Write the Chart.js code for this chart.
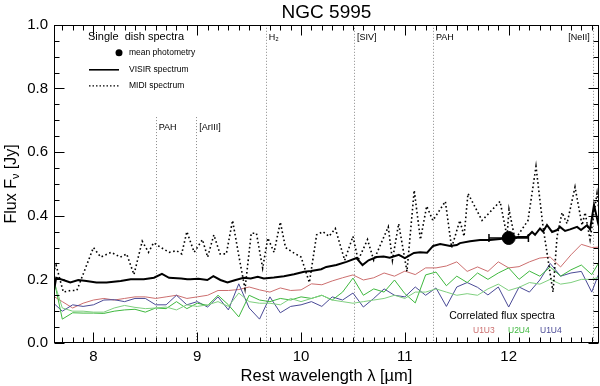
<!DOCTYPE html>
<html><head><meta charset="utf-8">
<script src="https://cdn.jsdelivr.net/npm/chart.js@4"></script>
<style>html,body{margin:0;padding:0;background:#fff}canvas{display:block}</style>
</head><body>
<canvas id="c" width="600" height="386"></canvas>
<script>
const FONT = "'Liberation Sans', Arial, Helvetica, sans-serif";

// ---- axes ----
const xMin = 7.62, xMax = 12.87;
const yMin = 0, yMax = 1.0;
const xTicks = [8, 9, 10, 11, 12];
const yTicks = [0, 0.2, 0.4, 0.6, 0.8, 1.0];

// ---- MIDI single-dish spectrum (dotted) ----
const midiWave = [7.61,7.64,7.71,7.78,7.84,8.00,8.07,8.17,8.26,8.32,8.39,8.47,8.53,8.58,8.65,8.73,8.80,8.85,8.90,8.97,
  9.05,9.10,9.16,9.22,9.28,9.34,9.40,9.46,9.52,9.57,9.63,9.68,9.74,9.80,9.85,9.92,10.00,10.08,10.15,10.21,
  10.27,10.33,10.42,10.50,10.55,10.64,10.70,10.84,10.88,10.94,11.02,11.09,11.15,11.21,11.27,11.39,11.45,11.53,11.57,11.608,
  11.743,11.917,11.984,12.003,12.061,12.186,12.263,12.331,12.427,12.466,12.514,12.562,12.639,12.707,12.736,12.784,12.851,12.88];
const midiFlux = [0.22,0.245,0.16,0.165,0.165,0.30,0.27,0.285,0.27,0.28,0.215,0.32,0.285,0.315,0.30,0.285,0.29,0.28,0.35,0.285,
  0.325,0.27,0.34,0.28,0.28,0.385,0.275,0.17,0.345,0.345,0.235,0.33,0.285,0.38,0.30,0.285,0.27,0.19,0.34,0.35,
  0.335,0.36,0.26,0.335,0.26,0.325,0.26,0.365,0.26,0.375,0.225,0.48,0.325,0.43,0.385,0.445,0.30,0.385,0.335,0.47,
  0.385,0.445,0.335,0.42,0.325,0.385,0.555,0.365,0.16,0.335,0.41,0.375,0.49,0.37,0.41,0.325,0.47,0.385];

// ---- VISIR single-dish spectrum (solid) ----
const visirWave = [7.612,7.641,7.709,7.777,7.854,7.932,8.029,8.126,8.262,8.359,8.485,8.583,8.66,8.728,8.845,8.903,
  8.932,9.01,9.097,9.155,9.223,9.291,9.369,9.447,9.515,9.583,9.641,9.738,9.835,9.932,10.029,10.097,10.194,
  10.243,10.34,10.437,10.534,10.592,10.65,10.728,10.796,10.854,10.942,11.0,11.087,11.146,11.214,11.272,11.34,11.437,11.5,11.531,
  11.628,11.724,11.82,11.917,12.09,12.177,12.225,12.254,12.302,12.331,12.369,12.418,12.466,12.495,12.543,12.591,12.659,12.697,12.755,12.784,12.822,12.861,12.88];
const visirFlux = [0.15,0.205,0.198,0.19,0.198,0.195,0.19,0.19,0.195,0.20,0.20,0.205,0.217,0.205,0.203,0.20,
  0.20,0.202,0.198,0.21,0.198,0.19,0.198,0.205,0.203,0.208,0.203,0.206,0.21,0.216,0.224,0.226,0.232,
  0.239,0.245,0.255,0.267,0.245,0.26,0.27,0.272,0.268,0.277,0.267,0.283,0.285,0.284,0.305,0.311,0.305,0.308,0.314,
  0.32,0.324,0.324,0.327,0.333,0.333,0.349,0.34,0.36,0.35,0.371,0.349,0.355,0.365,0.352,0.357,0.365,0.355,0.37,0.357,0.434,0.377,0.355];

// ---- mean photometry ----
const photWave = [12.0];
const photFlux = [0.33];
const photErr = [0.19];

// ---- correlated flux spectra ----
const corrWave = [7.6,7.7,7.8,7.9,8.0,8.1,8.2,8.3,8.4,8.5,8.6,8.7,8.8,8.9,9.0,9.1,9.2,9.3,9.4,9.5,
  9.6,9.7,9.8,9.9,10.0,10.1,10.2,10.3,10.4,10.5,10.6,10.7,10.8,10.9,11.0,11.1,11.2,11.3,11.4,11.5,
  11.6,11.7,11.8,11.9,12.0,12.1,12.2,12.3,12.4,12.5,12.6,12.7,12.8,12.9];
const u1u3 = [0.15,0.13,0.11,0.125,0.135,0.14,0.135,0.14,0.145,0.145,0.14,0.145,0.15,0.14,0.145,0.15,0.165,0.165,0.168,0.176,
  0.167,0.16,0.173,0.165,0.167,0.186,0.183,0.195,0.205,0.214,0.198,0.205,0.22,0.21,0.226,0.215,0.236,0.236,0.242,0.255,
  0.225,0.239,0.225,0.255,0.236,0.24,0.255,0.267,0.27,0.239,0.277,0.31,0.30,0.302];
const u2u4 = [0.23,0.075,0.095,0.094,0.094,0.093,0.10,0.104,0.106,0.097,0.11,0.108,0.13,0.108,0.125,0.118,0.15,0.12,0.082,0.15,
  0.135,0.13,0.14,0.135,0.145,0.14,0.15,0.135,0.16,0.204,0.15,0.17,0.16,0.198,0.155,0.126,0.214,0.223,0.18,0.21,
  0.19,0.22,0.2,0.22,0.236,0.2,0.226,0.21,0.239,0.21,0.23,0.245,0.215,0.27];
const u2u4b = [0.214,0.11,0.10,0.10,0.097,0.097,0.11,0.118,0.112,0.108,0.11,0.113,0.104,0.12,0.115,0.12,0.13,0.115,0.157,0.13,
  0.125,0.125,0.12,0.14,0.13,0.14,0.15,0.135,0.13,0.125,0.13,0.135,0.14,0.15,0.14,0.16,0.16,0.17,0.16,0.15,
  0.155,0.15,0.17,0.185,0.165,0.175,0.19,0.185,0.20,0.185,0.19,0.20,0.20,0.21];
const u1u4 = [0.13,0.10,0.12,0.115,0.12,0.135,0.136,0.13,0.14,0.14,0.12,0.12,0.15,0.12,0.13,0.113,0.145,0.104,0.186,0.11,
  0.075,0.145,0.095,0.115,0.12,0.13,0.115,0.145,0.135,0.157,0.113,0.14,0.17,0.15,0.145,0.176,0.15,0.173,0.115,0.176,
  0.19,0.175,0.151,0.176,0.113,0.176,0.16,0.198,0.25,0.21,0.22,0.225,0.16,0.245];

// ---- spectral line markers ----
const lineWave = [8.6, 8.99, 9.66, 10.51, 11.27, 12.81];
const lineLabels = ['PAH', '[ArIII]', 'H\u2082', '[SIV]', 'PAH', '[NeII]'];
const lineTop = [0.71, 0.71, 1.0, 1.0, 1.0, 1.0];
const lineLabelY = [0.676, 0.676, 0.96, 0.96, 0.96, 0.96];

const colRed = '#cc6f6f', colGreen = '#3fb83f', colGreen2 = '#7fcf7f', colPurple = '#4a4a96';

const pairs = (xs, ys) => xs.map((x, i) => ({ x: x, y: ys[i] }));

const overlay = {
  id: 'overlay',
  beforeDatasetsDraw(chart) {
    const ctx = chart.ctx, xs = chart.scales.x, ys = chart.scales.y, a = chart.chartArea;
    ctx.save();
    ctx.beginPath(); ctx.rect(a.left, a.top, a.right - a.left, a.bottom - a.top); ctx.clip();
    ctx.strokeStyle = '#8a8a8a'; ctx.lineWidth = 1; ctx.setLineDash([1, 2]);
    lineWave.forEach((w, i) => {
      const px = Math.round(xs.getPixelForValue(w)) + 0.5;
      ctx.beginPath(); ctx.moveTo(px, ys.getPixelForValue(lineTop[i])); ctx.lineTo(px, a.bottom); ctx.stroke();
    });
    ctx.setLineDash([]);
    ctx.restore();
    ctx.save();
    ctx.fillStyle = '#000'; ctx.font = '9px ' + FONT; ctx.textBaseline = 'middle';
    lineWave.forEach((w, i) => {
      const px = xs.getPixelForValue(w), py = ys.getPixelForValue(lineLabelY[i]);
      if (i === lineWave.length - 1) { ctx.textAlign = 'right'; ctx.fillText(lineLabels[i], px - 3, py); }
      else { ctx.textAlign = 'left'; ctx.fillText(lineLabels[i], px + 3, py); }
    });
    ctx.restore();
  },
  afterDatasetsDraw(chart) {
    const ctx = chart.ctx, xs = chart.scales.x, ys = chart.scales.y, a = chart.chartArea;
    ctx.save();
    // error bar of photometry
    ctx.strokeStyle = '#000'; ctx.lineWidth = 1.5;
    photWave.forEach((w, i) => {
      const x1 = xs.getPixelForValue(w - photErr[i]), x2 = xs.getPixelForValue(w + photErr[i]);
      const py = ys.getPixelForValue(photFlux[i]);
      ctx.beginPath();
      ctx.moveTo(x1, py); ctx.lineTo(x2, py);
      ctx.moveTo(x1, py - 4); ctx.lineTo(x1, py + 4);
      ctx.moveTo(x2, py - 4); ctx.lineTo(x2, py + 4);
      ctx.stroke();
    });
    // frame
    ctx.lineWidth = 1; ctx.strokeStyle = '#000';
    const L = Math.round(a.left) + 0.5, R = Math.round(a.right) - 0.5, T = Math.round(a.top) + 0.5, B = Math.round(a.bottom) - 0.5;
    ctx.strokeRect(L, T, R - L, B - T);
    // ticks
    ctx.beginPath();
    for (let i = Math.ceil(xMin * 10); i <= Math.floor(xMax * 10); i++) {
      const len = (i % 10 === 0) ? 10 : 5;
      const px = Math.round(xs.getPixelForValue(i / 10)) + 0.5;
      ctx.moveTo(px, B); ctx.lineTo(px, B - len);
      ctx.moveTo(px, T); ctx.lineTo(px, T + len);
    }
    for (let i = 0; i <= 20; i++) {
      const len = (i % 4 === 0) ? 10 : 5;
      const py = Math.round(ys.getPixelForValue(i * 0.05)) + 0.5;
      ctx.moveTo(L, py); ctx.lineTo(L + len, py);
      ctx.moveTo(R, py); ctx.lineTo(R - len, py);
    }
    ctx.stroke();

    // single dish legend
    ctx.fillStyle = '#000'; ctx.textBaseline = 'middle'; ctx.textAlign = 'left';
    ctx.font = '11px ' + FONT;
    ctx.fillText('Single  dish spectra', a.left + 34, a.top + 12);
    ctx.font = '8.5px ' + FONT;
    ctx.beginPath(); ctx.arc(a.left + 65, a.top + 28, 3.5, 0, Math.PI * 2); ctx.fill();
    ctx.fillText('mean photometry', a.left + 75, a.top + 28);
    ctx.lineWidth = 1.6;
    ctx.beginPath(); ctx.moveTo(a.left + 35, a.top + 45); ctx.lineTo(a.left + 65, a.top + 45); ctx.stroke();
    ctx.fillText('VISIR spectrum', a.left + 75, a.top + 45);
    ctx.setLineDash([1.5, 2]); ctx.lineWidth = 1.3;
    ctx.beginPath(); ctx.moveTo(a.left + 35, a.top + 61); ctx.lineTo(a.left + 65, a.top + 61); ctx.stroke();
    ctx.setLineDash([]);
    ctx.fillText('MIDI spectrum', a.left + 75, a.top + 61);

    // correlated flux legend
    ctx.font = '10.5px ' + FONT; ctx.textAlign = 'center';
    ctx.fillText('Correlated flux spectra', a.left + 448, a.bottom - 27);
    ctx.font = '8.5px ' + FONT; ctx.textAlign = 'left';
    ctx.fillStyle = colRed; ctx.fillText('U1U3', a.left + 419, a.bottom - 12);
    ctx.fillStyle = colGreen; ctx.fillText('U2U4', a.left + 454, a.bottom - 12);
    ctx.fillStyle = colPurple; ctx.fillText('U1U4', a.left + 486, a.bottom - 12);

    // y-axis title with subscript
    ctx.fillStyle = '#000';
    ctx.translate(12, (a.top + a.bottom) / 2);
    ctx.rotate(-Math.PI / 2);
    ctx.textAlign = 'left'; ctx.textBaseline = 'middle';
    ctx.font = '16px ' + FONT; const w1 = ctx.measureText('Flux F').width, w3 = ctx.measureText(' [Jy]').width;
    ctx.font = '11px ' + FONT; const w2 = ctx.measureText('\u03BD').width;
    let x0 = -(w1 + w2 + w3) / 2;
    ctx.font = '16px ' + FONT; ctx.fillText('Flux F', x0, 0);
    ctx.font = '11px ' + FONT; ctx.fillText('\u03BD', x0 + w1, 4);
    ctx.font = '16px ' + FONT; ctx.fillText(' [Jy]', x0 + w1 + w2, 0);
    ctx.restore();
  }
};

const thin = (label, xs, ys, color, order, w) => ({
  label, data: pairs(xs, ys), borderColor: color, borderWidth: w, pointRadius: 0,
  tension: 0, fill: false, order, clip: 0
});

new Chart(document.getElementById('c').getContext('2d'), {
  type: 'line',
  data: {
    datasets: [
      { label: 'mean photometry', data: pairs(photWave, photFlux), showLine: false, pointRadius: 6.5,
        pointBackgroundColor: '#000', pointBorderColor: '#000', order: -1, clip: false },
      thin('VISIR spectrum', visirWave, visirFlux, '#000', 0, 2),
      Object.assign(thin('MIDI spectrum', midiWave, midiFlux, '#000', 1, 1.6), { borderDash: [1.6, 2.6] }),
      thin('U1U3', corrWave, u1u3, colRed, 5, 1),
      thin('U1U4', corrWave, u1u4, colPurple, 4, 1),
      thin('U2U4', corrWave, u2u4, colGreen, 3, 1),
      thin('U2U4 b', corrWave, u2u4b, colGreen2, 2, 1)
    ]
  },
  options: {
    responsive: false, animation: false, devicePixelRatio: 1,
    layout: { padding: { top: 0, right: 1, bottom: 0, left: 0 }, autoPadding: false },
    plugins: {
      legend: { display: false }, tooltip: { enabled: false },
      title: { display: true, fullSize: false, text: 'NGC 5995', color: '#000', font: { family: FONT, size: 19, weight: 'normal' }, padding: { top: 1, bottom: 1 } }
    },
    scales: {
      x: {
        type: 'linear', min: xMin, max: xMax,
        grid: { display: false, drawTicks: false }, border: { display: false },
        afterBuildTicks: s => { s.ticks = xTicks.map(v => ({ value: v })); },
        afterFit: s => { s.height = 43; s.paddingLeft = 0; s.paddingRight = 0; },
        ticks: { color: '#000', font: { family: FONT, size: 15 }, padding: 5, maxRotation: 0, autoSkip: false, callback: v => String(v) },
        title: { display: true, text: 'Rest wavelength \u03BB [\u00B5m]', color: '#000', font: { family: FONT, size: 16.5 }, padding: { top: 0, bottom: 0 } }
      },
      y: {
        type: 'linear', min: yMin, max: yMax,
        grid: { display: false, drawTicks: false }, border: { display: false },
        afterBuildTicks: s => { s.ticks = yTicks.map(v => ({ value: v })); },
        afterFit: s => { s.width = 54; s.paddingTop = 0; s.paddingBottom = 0; },
        ticks: { color: '#000', font: { family: FONT, size: 15 }, padding: 6, autoSkip: false, callback: v => Number(v).toFixed(1) }
      }
    }
  },
  plugins: [overlay]
});
</script>
</body></html>
